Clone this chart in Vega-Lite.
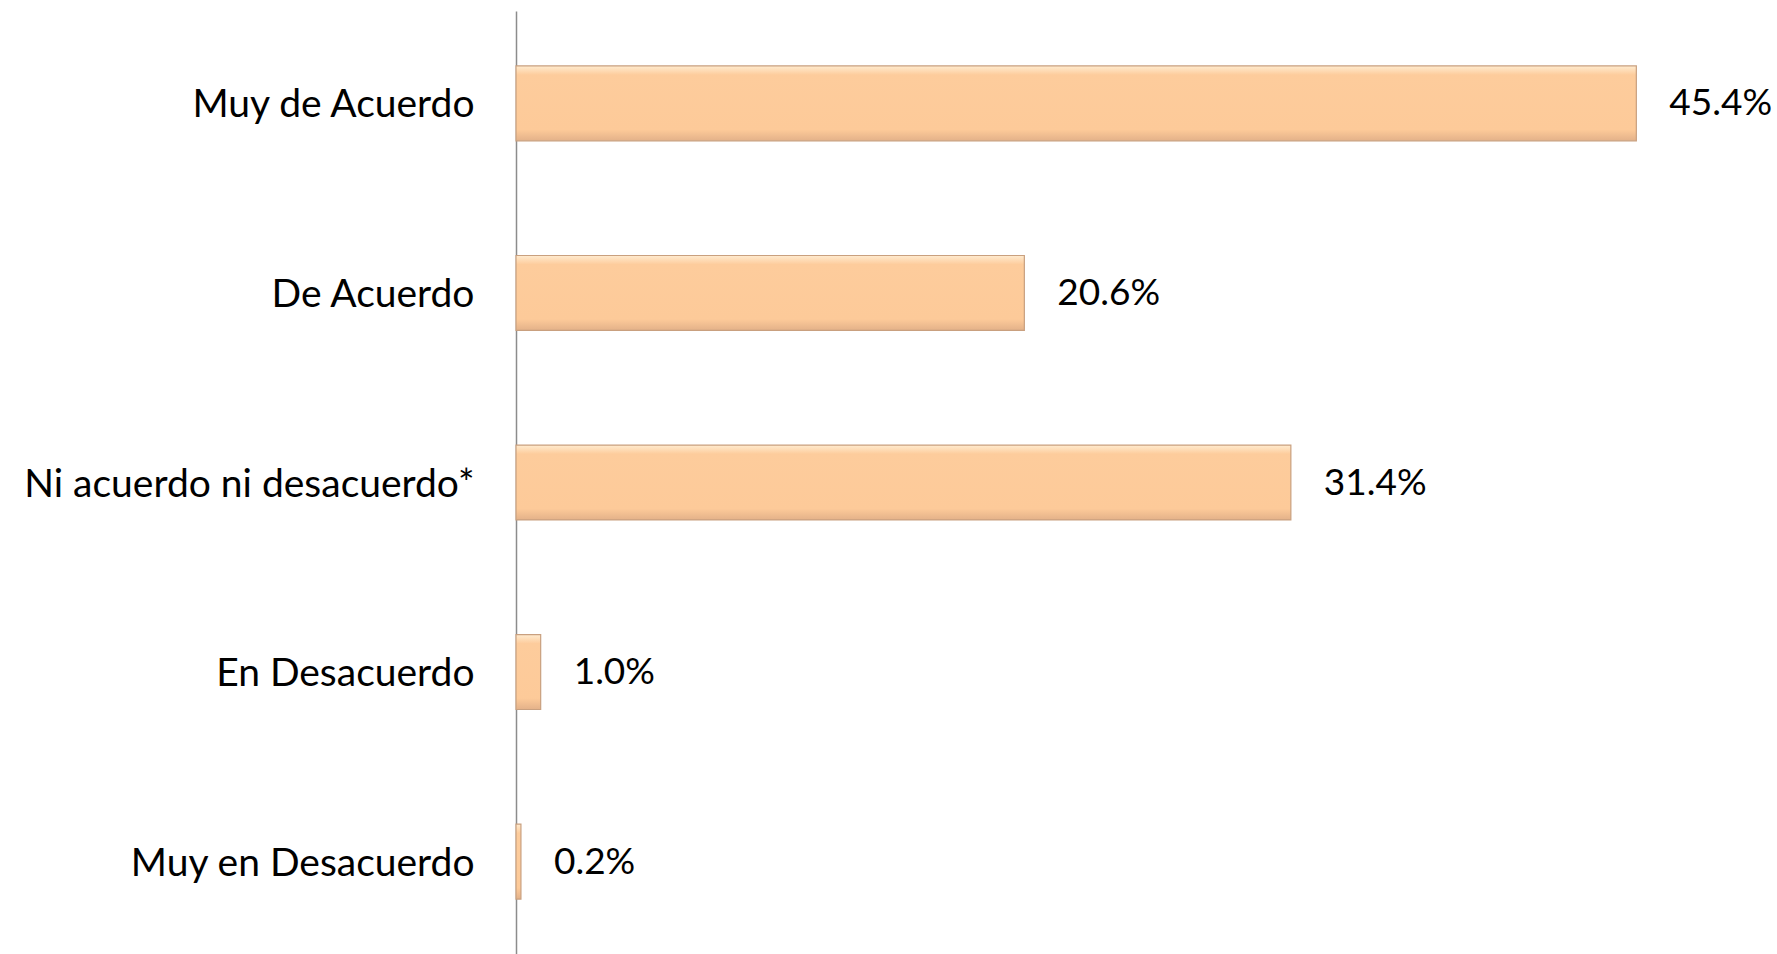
{
  "$schema": "https://vega.github.io/schema/vega-lite/v6.json",
  "width": 1261,
  "height": 943,
  "autosize": {"type": "none"},
  "padding": {"left": 516, "top": 11, "right": 0, "bottom": 0},
  "background": "white",
  "config": {"view": {"stroke": null}},
  "data": {
    "values": [
      {"categoria": "Muy de Acuerdo", "pct": 45.4, "etiqueta": "45.4%"},
      {"categoria": "De Acuerdo", "pct": 20.6, "etiqueta": "20.6%"},
      {"categoria": "Ni acuerdo ni desacuerdo*", "pct": 31.4, "etiqueta": "31.4%"},
      {"categoria": "En Desacuerdo", "pct": 1.0, "etiqueta": "1.0%"},
      {"categoria": "Muy en Desacuerdo", "pct": 0.2, "etiqueta": "0.2%"}
    ]
  },
  "encoding": {
    "y": {
      "field": "categoria",
      "type": "nominal",
      "sort": null,
      "title": null,
      "scale": {"paddingInner": 0.605, "paddingOuter": 0.29},
      "axis": {
        "ticks": false,
        "labelFont": "Lato",
        "labelFontSize": 39,
        "labelColor": "#000000",
        "labelPadding": 42,
        "labelLimit": 600,
        "labelBaseline": "middle",
        "labelOffset": 2,
        "domainColor": "#8c8c8c",
        "domainWidth": 1.5,
        "grid": false
      }
    },
    "x": {
      "field": "pct",
      "type": "quantitative",
      "scale": {"domain": [0, 51.1], "nice": false, "zero": true},
      "axis": null
    }
  },
  "layer": [
    {
      "mark": {
        "type": "bar",
        "stroke": "#C9A07F",
        "strokeWidth": 1.2,
        "fill": {
          "gradient": "linear",
          "x1": 0, "y1": 0, "x2": 0, "y2": 1,
          "stops": [
            {"offset": 0, "color": "#FFEBCF"},
            {"offset": 0.12, "color": "#FDCC9C"},
            {"offset": 0.85, "color": "#FDCA99"},
            {"offset": 1, "color": "#E3B189"}
          ]
        }
      }
    },
    {
      "mark": {"type": "text", "align": "left", "baseline": "middle", "dx": 33, "dy": 1, "font": "Lato", "fontSize": 37, "color": "#000000"},
      "encoding": {"text": {"field": "etiqueta"}}
    }
  ]
}
